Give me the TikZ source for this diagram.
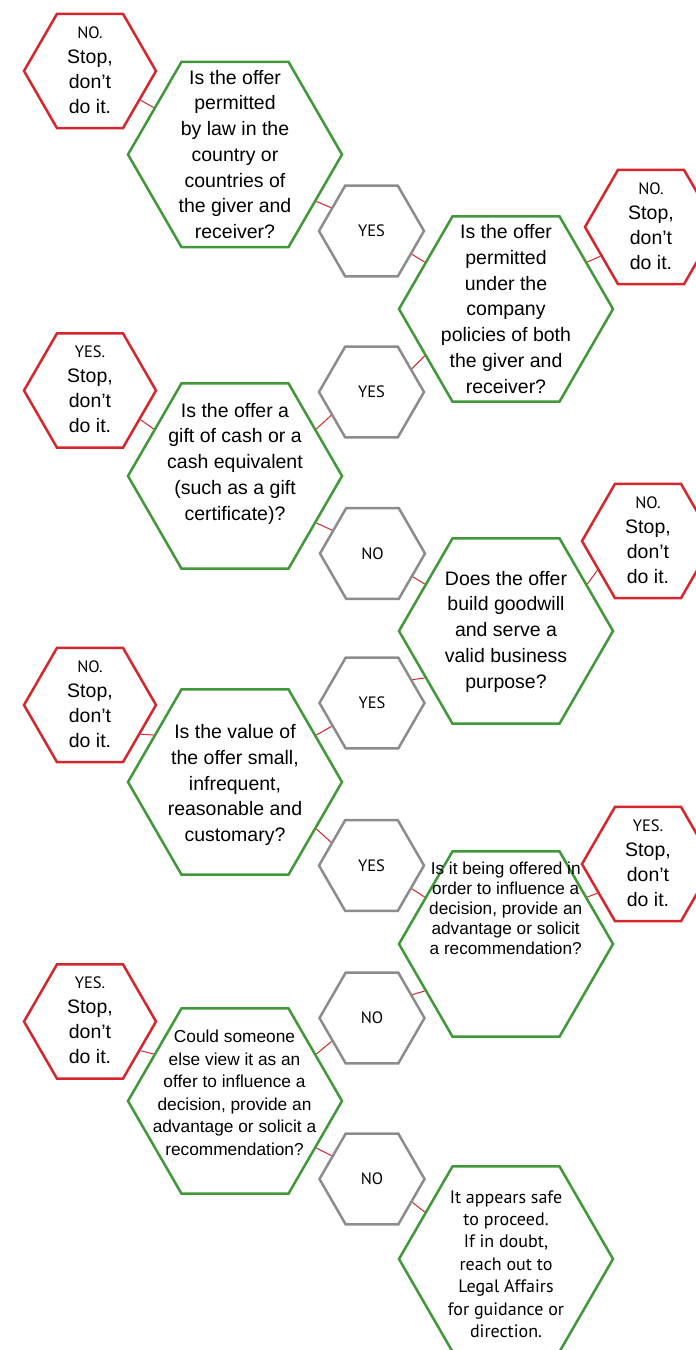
\documentclass[tikz,border=0pt]{standalone}
\usepackage{fontspec}
\setmainfont{Liberation Sans}
\newfontfamily\ptsans{PT Sans}
\usetikzlibrary{shapes.geometric}
\definecolor{hexgreen}{RGB}{64,152,56}
\definecolor{hexred}{RGB}{213,38,45}
\definecolor{hexgray}{RGB}{140,140,140}
\begin{document}
\begin{tikzpicture}[x=1pt,y=-1pt,
  hexbase/.style={regular polygon, regular polygon sides=6, inner sep=0pt, line width=2.5pt, fill=white},
  hexg/.style={hexbase, minimum size=214pt, draw=hexgreen},
  hexr/.style={hexbase, minimum size=132pt, draw=hexred},
  hexy/.style={hexbase, minimum size=105pt, draw=hexgray},
  qtext/.style={align=center, inner sep=0pt, font=\fontsize{19.5}{25.75}\selectfont},
  qsmall/.style={align=center, inner sep=0pt, font=\fontsize{17.2}{20}\selectfont},
  qmid/.style={align=center, inner sep=0pt, font=\fontsize{17.3}{22.5}\selectfont},
  safetext/.style={align=center, inner sep=0pt, font=\ptsans\fontsize{18}{22.4}\selectfont},
  stoptext/.style={align=center, inner sep=0pt, font=\fontsize{19.5}{25}\selectfont},
  ynlabel/.style={inner sep=0pt, font=\ptsans\fontsize{16.5}{19}\selectfont},
  link/.style={draw=hexred, line width=1pt}]
\useasboundingbox[fill=white] (0,0) rectangle (696,1350);

% green question hexagons
\node[hexg] (g1) at (235,154.5) {};
\node[hexg] (g2) at (506,309) {};
\node[hexg] (g3) at (235,476) {};
\node[hexg] (g4) at (506,631) {};
\node[hexg] (g5) at (235,782) {};
\node[hexg] (g6) at (506,944) {};
\node[hexg] (g7) at (235,1101) {};
\node[hexg] (g8) at (506,1259) {};

% red stop hexagons
\node[hexr] (r1) at (90,71) {};
\node[hexr] (r2) at (651,227) {};
\node[hexr] (r3) at (90,390.5) {};
\node[hexr] (r4) at (648,541) {};
\node[hexr] (r5) at (90,705) {};
\node[hexr] (r6) at (648,864) {};
\node[hexr] (r7) at (90,1021.5) {};

% gray answer hexagons
\node[hexy] (a1) at (371.5,231) {};
\node[hexy] (a2) at (371.5,392) {};
\node[hexy] (a3) at (372.5,553.5) {};
\node[hexy] (a4) at (372,703) {};
\node[hexy] (a5) at (371.5,865.5) {};
\node[hexy] (a6) at (372,1018) {};
\node[hexy] (a7) at (372,1179) {};

% connectors
\draw[link] (r1.-30) -- (g1.150);
\draw[link] (g1.-30) -- (a1.150);
\draw[link] (a1.-30) -- (g2.150);
\draw[link] (g2.30) -- (r2.210);
\draw[link] (g2.210) -- (a2.30);
\draw[link] (a2.210) -- (g3.30);
\draw[link] (r3.-30) -- (g3.150);
\draw[link] (g3.-30) -- (a3.150);
\draw[link] (a3.-30) -- (g4.150);
\draw[link] (g4.30) -- (r4.210);
\draw[link] (g4.210) -- (a4.30);
\draw[link] (a4.210) -- (g5.30);
\draw[link] (r5.-30) -- (g5.150);
\draw[link] (g5.-30) -- (a5.150);
\draw[link] (a5.-30) -- (g6.150);
\draw[link] (g6.30) -- (r6.210);
\draw[link] (g6.210) -- (a6.30);
\draw[link] (a6.210) -- (g7.30);
\draw[link] (r7.-30) -- (g7.150);
\draw[link] (g7.-30) -- (a7.150);
\draw[link] (a7.-30) -- (g8.150);

% question texts
\node[qtext] (g1t) at (235,154.5) {Is the offer\\permitted\\by law in the\\country or\\countries of\\the giver and\\receiver?};
\node[qtext] (g2t) at (506,309) {Is the offer\\permitted\\under the\\company\\policies of both\\the giver and\\receiver?};
\node[qtext] (g3t) at (235,463.5) {Is the offer a\\gift of cash or a\\cash equivalent\\(such as a gift\\certificate)?};
\node[qtext] (g4t) at (506,631.5) {Does the offer\\build goodwill\\and serve a\\valid business\\purpose?};
\node[qtext] (g5t) at (235,785) {Is the value of\\the offer small,\\infrequent,\\reasonable and\\customary?};
\node[qsmall] (g6t) at (505.7,908) {Is it being offered in\\order to influence a\\decision, provide an\\advantage or solicit\\a recommendation?};
\node[qmid] (g7t) at (234.5,1093) {Could someone\\else view it as an\\offer to influence a\\decision, provide an\\advantage or solicit a\\recommendation?};
\node[safetext] (g8t) at (506,1264) {It appears safe\\to proceed.\\If in doubt,\\reach out to\\Legal Affairs\\for guidance or\\direction.};

% stop texts
\node[stoptext] (r1t) at (90,70) {{\ptsans\fontsize{16.5}{19}\selectfont NO.}\\Stop,\\don’t\\do it.};
\node[stoptext] (r2t) at (651,226) {{\ptsans\fontsize{16.5}{19}\selectfont NO.}\\Stop,\\don’t\\do it.};
\node[stoptext] (r3t) at (90,389.5) {{\ptsans\fontsize{16.5}{19}\selectfont YES.}\\Stop,\\don’t\\do it.};
\node[stoptext] (r4t) at (648,540) {{\ptsans\fontsize{16.5}{19}\selectfont NO.}\\Stop,\\don’t\\do it.};
\node[stoptext] (r5t) at (90,704) {{\ptsans\fontsize{16.5}{19}\selectfont NO.}\\Stop,\\don’t\\do it.};
\node[stoptext] (r6t) at (648,863) {{\ptsans\fontsize{16.5}{19}\selectfont YES.}\\Stop,\\don’t\\do it.};
\node[stoptext] (r7t) at (90,1020.5) {{\ptsans\fontsize{16.5}{19}\selectfont YES.}\\Stop,\\don’t\\do it.};

% answer texts
\node[ynlabel] (a1t) at (a1) {YES};
\node[ynlabel] (a2t) at (a2) {YES};
\node[ynlabel] (a3t) at (a3) {NO};
\node[ynlabel] (a4t) at (a4) {YES};
\node[ynlabel] (a5t) at (a5) {YES};
\node[ynlabel] (a6t) at (a6) {NO};
\node[ynlabel] (a7t) at (a7) {NO};
\end{tikzpicture}
\end{document}
